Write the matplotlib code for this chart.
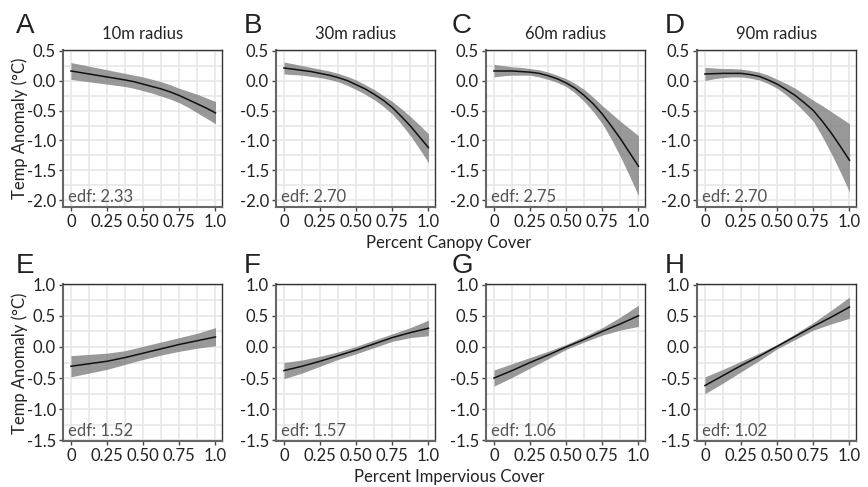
import numpy as np
import matplotlib
matplotlib.use("Agg")
import matplotlib.pyplot as plt
from matplotlib.ticker import MultipleLocator

plt.rcParams['font.family'] = ['Lato', 'DejaVu Sans']

# x positions
x_fine = [0, 0.0625, 0.125, 0.1875, 0.25, 0.3125, 0.375, 0.4375, 0.5,
          0.5625, 0.625, 0.6875, 0.75, 0.8125, 0.875, 0.9375, 1.0]
x_coarse = [0, 0.125, 0.25, 0.375, 0.5, 0.625, 0.75, 0.875, 1.0]

# canopy cover panels (top row)
fit_a = [0.16, 0.135, 0.11, 0.085, 0.06, 0.035, 0.01, -0.02, -0.06, -0.10, -0.14, -0.19, -0.25, -0.32, -0.39, -0.46, -0.54]
hi_a = [0.30, 0.27, 0.24, 0.21, 0.18, 0.15, 0.12, 0.09, 0.06, 0.02, -0.02, -0.07, -0.13, -0.18, -0.23, -0.29, -0.35]
lo_a = [0.02, 0.00, -0.02, -0.04, -0.06, -0.08, -0.10, -0.13, -0.17, -0.21, -0.26, -0.31, -0.37, -0.45, -0.54, -0.63, -0.72]

fit_b = [0.21, 0.19, 0.17, 0.15, 0.12, 0.09, 0.05, 0.00, -0.07, -0.14, -0.23, -0.33, -0.45, -0.60, -0.76, -0.94, -1.12]
hi_b = [0.31, 0.28, 0.25, 0.22, 0.19, 0.16, 0.12, 0.07, 0.01, -0.07, -0.15, -0.25, -0.35, -0.47, -0.60, -0.74, -0.89]
lo_b = [0.11, 0.10, 0.09, 0.07, 0.05, 0.02, -0.02, -0.08, -0.15, -0.23, -0.32, -0.43, -0.56, -0.73, -0.92, -1.14, -1.37]

fit_c = [0.16, 0.16, 0.16, 0.15, 0.14, 0.12, 0.08, 0.03, -0.04, -0.13, -0.25, -0.39, -0.56, -0.76, -0.97, -1.20, -1.43]
hi_c = [0.27, 0.25, 0.23, 0.22, 0.20, 0.18, 0.14, 0.09, 0.03, -0.05, -0.15, -0.28, -0.42, -0.55, -0.68, -0.80, -0.92]
lo_c = [0.06, 0.08, 0.09, 0.09, 0.09, 0.06, 0.02, -0.03, -0.10, -0.21, -0.35, -0.52, -0.72, -0.98, -1.27, -1.59, -1.92]

fit_d = [0.11, 0.115, 0.12, 0.12, 0.12, 0.10, 0.07, 0.01, -0.06, -0.15, -0.25, -0.37, -0.50, -0.68, -0.88, -1.10, -1.33]
hi_d = [0.22, 0.21, 0.20, 0.20, 0.19, 0.17, 0.14, 0.09, 0.02, -0.05, -0.13, -0.23, -0.33, -0.42, -0.52, -0.62, -0.72]
lo_d = [0.00, 0.03, 0.05, 0.06, 0.06, 0.04, 0.01, -0.05, -0.13, -0.24, -0.37, -0.52, -0.68, -0.94, -1.22, -1.53, -1.86]

# impervious cover panels (bottom row)
fit_e = [-0.31, -0.27, -0.23, -0.17, -0.10, -0.03, 0.04, 0.10, 0.16]
hi_e = [-0.14, -0.12, -0.10, -0.06, 0.01, 0.08, 0.15, 0.22, 0.31]
lo_e = [-0.48, -0.42, -0.36, -0.28, -0.20, -0.13, -0.07, -0.02, 0.02]

fit_f = [-0.38, -0.31, -0.23, -0.14, -0.05, 0.05, 0.15, 0.23, 0.30]
hi_f = [-0.25, -0.21, -0.15, -0.08, 0.01, 0.11, 0.21, 0.31, 0.43]
lo_f = [-0.51, -0.42, -0.31, -0.20, -0.11, -0.01, 0.09, 0.15, 0.18]

fit_g = [-0.50, -0.38, -0.25, -0.13, 0.00, 0.12, 0.25, 0.37, 0.50]
hi_g = [-0.37, -0.27, -0.17, -0.07, 0.04, 0.17, 0.31, 0.48, 0.67]
lo_g = [-0.63, -0.49, -0.34, -0.19, -0.04, 0.08, 0.19, 0.27, 0.33]

fit_h = [-0.62, -0.46, -0.30, -0.15, 0.01, 0.17, 0.33, 0.48, 0.64]
hi_h = [-0.48, -0.36, -0.23, -0.10, 0.04, 0.21, 0.39, 0.59, 0.80]
lo_h = [-0.75, -0.58, -0.40, -0.22, -0.03, 0.12, 0.27, 0.37, 0.46]

letters = ["A", "B", "C", "D", "E", "F", "G", "H"]
titles = ["10m radius", "30m radius", "60m radius", "90m radius"]
edf_labels = ["2.33", "2.70", "2.75", "2.70", "1.52", "1.57", "1.06", "1.02"]
x_ticks = [0, 0.25, 0.5, 0.75, 1.0]
x_ticklabels = ["0", "0.25", "0.50", "0.75", "1.0"]

panels = [(x_fine, fit_a, hi_a, lo_a), (x_fine, fit_b, hi_b, lo_b),
          (x_fine, fit_c, hi_c, lo_c), (x_fine, fit_d, hi_d, lo_d),
          (x_coarse, fit_e, hi_e, lo_e), (x_coarse, fit_f, hi_f, lo_f),
          (x_coarse, fit_g, hi_g, lo_g), (x_coarse, fit_h, hi_h, lo_h)]

W, H = 868, 487
fig = plt.figure(figsize=(W / 100, H / 100), dpi=100)

col_left = [63, 276, 486, 697]
row_top = [50, 284]
ax_w, ax_h = 159, 157
fs = 12

for i, (xs, fit, hi, lo) in enumerate(panels):
    row, col = divmod(i, 4)
    l = col_left[col] / W
    b = 1 - (row_top[row] + ax_h) / H
    ax = fig.add_axes([l, b, ax_w / W, ax_h / H])

    if row == 0:
        ax.set_ylim(-2.11, 0.51)
        ax.set_yticks([0.5, 0.0, -0.5, -1.0, -1.5, -2.0])
        ax.set_yticklabels(["0.5", "0.0", "-0.5", "-1.0", "-1.5", "-2.0"])
        ax.set_title(titles[col], fontsize=fs, pad=8, color="#222222")
    else:
        ax.set_ylim(-1.51, 1.01)
        ax.set_yticks([1.0, 0.5, 0.0, -0.5, -1.0, -1.5])
        ax.set_yticklabels(["1.0", "0.5", "0.0", "-0.5", "-1.0", "-1.5"])
    ax.set_xlim(-0.055, 1.045)
    ax.set_xticks(x_ticks)
    ax.set_xticklabels(x_ticklabels)
    ax.xaxis.set_minor_locator(MultipleLocator(0.125))
    ax.yaxis.set_minor_locator(MultipleLocator(0.25))

    ax.grid(True, which="both", color="#e8e8e8", linewidth=1.2)
    ax.set_axisbelow(True)

    ax.fill_between(xs, lo, hi, color="#808080", alpha=0.8, linewidth=0)
    ax.plot(xs, fit, color="#111111", linewidth=1.1)

    for s in ax.spines.values():
        s.set_color("#333333")
        s.set_linewidth(1.0)
    ax.spines["left"].set_color("#666666")
    ax.spines["left"].set_linewidth(1.5)
    ax.spines["bottom"].set_color("#666666")
    ax.spines["bottom"].set_linewidth(1.5)

    ax.tick_params(which="major", length=3, width=1, color="#444444",
                   labelsize=fs, labelcolor="#222222", pad=2)
    ax.tick_params(which="minor", length=0)

    ax.text(0.03, 0.01, "edf: " + edf_labels[i], transform=ax.transAxes,
            ha="left", va="bottom", fontsize=fs, color="#555555")

    lx = [16, 244, 452, 665][col]
    ly = [33, 273][row]
    fig.text(lx / W, 1 - ly / H, letters[i], fontsize=20, color="#222222",
             ha="left", va="baseline", family="Liberation Sans")

# row labels
fig.text(20 / W, 1 - 128 / H, "Temp Anomaly (°C)", rotation=90,
         ha="center", va="center", fontsize=fs, color="#222222")
fig.text(20 / W, 1 - 363 / H, "Temp Anomaly (°C)", rotation=90,
         ha="center", va="center", fontsize=fs, color="#222222")
fig.text(449 / W, 1 - 248 / H, "Percent Canopy Cover",
         ha="center", va="baseline", fontsize=fs, color="#222222")
fig.text(449 / W, 1 - 482 / H, "Percent Impervious Cover",
         ha="center", va="baseline", fontsize=fs, color="#222222")

fig.savefig("out.png", dpi=100)
